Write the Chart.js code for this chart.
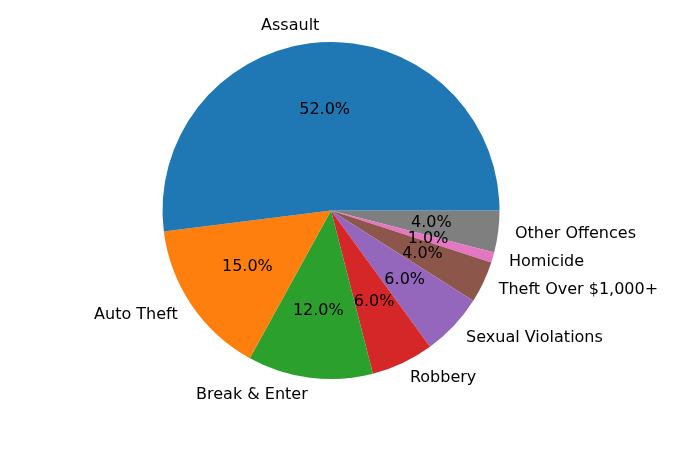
<!DOCTYPE html>
<html>
<head>
<meta charset="utf-8">
<script src="https://cdn.jsdelivr.net/npm/chart.js@4"></script>
<style>
  html, body { margin: 0; padding: 0; background: #fff; }
  #wrap { width: 700px; height: 450px; }
</style>
</head>
<body>
<div id="wrap"><canvas id="pie"></canvas></div>
<script>
// categories and shares (percent), in matplotlib order (counter-clockwise from 3 o'clock)
const categories = ['Assault', 'Auto Theft', 'Break & Enter', 'Robbery', 'Sexual Violations', 'Theft Over $1,000+', 'Homicide', 'Other Offences'];
const shares = [52, 15, 12, 6, 6, 4, 1, 4];
const colors = ['#1f77b4', '#ff7f0e', '#2ca02c', '#d62728', '#9467bd', '#8c564b', '#e377c2', '#7f7f7f'];

// Chart.js goes clockwise, so feed the slices reversed to get the same picture
const labelsRev = categories.slice().reverse();
const dataRev = shares.slice().reverse();
const colorsRev = colors.slice().reverse();

const font = '16px "DejaVu Sans", sans-serif';

// draws the outside labels (1.1 r) and the percentages (0.6 r) like matplotlib's autopct
const pieLabels = {
    id: 'pieLabels',
    afterDatasetsDraw(chart) {
        const ctx = chart.ctx;
        const meta = chart.getDatasetMeta(0);
        const total = dataRev.reduce((a, b) => a + b, 0);
        ctx.save();
        ctx.font = font;
        ctx.fillStyle = '#000';
        ctx.textBaseline = 'middle';
        meta.data.forEach((arc, i) => {
            const p = arc.getProps(['x', 'y', 'startAngle', 'endAngle', 'outerRadius'], true);
            const mid = (p.startAngle + p.endAngle) / 2;
            const c = Math.cos(mid), s = Math.sin(mid);
            // category label
            ctx.textAlign = c >= 0 ? 'left' : 'right';
            ctx.fillText(labelsRev[i], p.x + 1.1 * p.outerRadius * c, p.y + 1.1 * p.outerRadius * s);
            // percentage
            ctx.textAlign = 'center';
            const pct = (dataRev[i] / total * 100).toFixed(1) + '%';
            ctx.fillText(pct, p.x + 0.6 * p.outerRadius * c, p.y + 0.6 * p.outerRadius * s);
        });
        ctx.restore();
    }
};

new Chart(document.getElementById('pie'), {
    type: 'pie',
    data: {
        labels: labelsRev,
        datasets: [{
            data: dataRev,
            backgroundColor: colorsRev,
            borderWidth: 0
        }]
    },
    options: {
        responsive: true,
        maintainAspectRatio: false,
        animation: false,
        rotation: 90,
        layout: { padding: { left: 162.5, right: 200.5, top: 42, bottom: 71 } },
        plugins: {
            legend: { display: false },
            tooltip: { enabled: false }
        }
    },
    plugins: [pieLabels]
});
</script>
</body>
</html>
